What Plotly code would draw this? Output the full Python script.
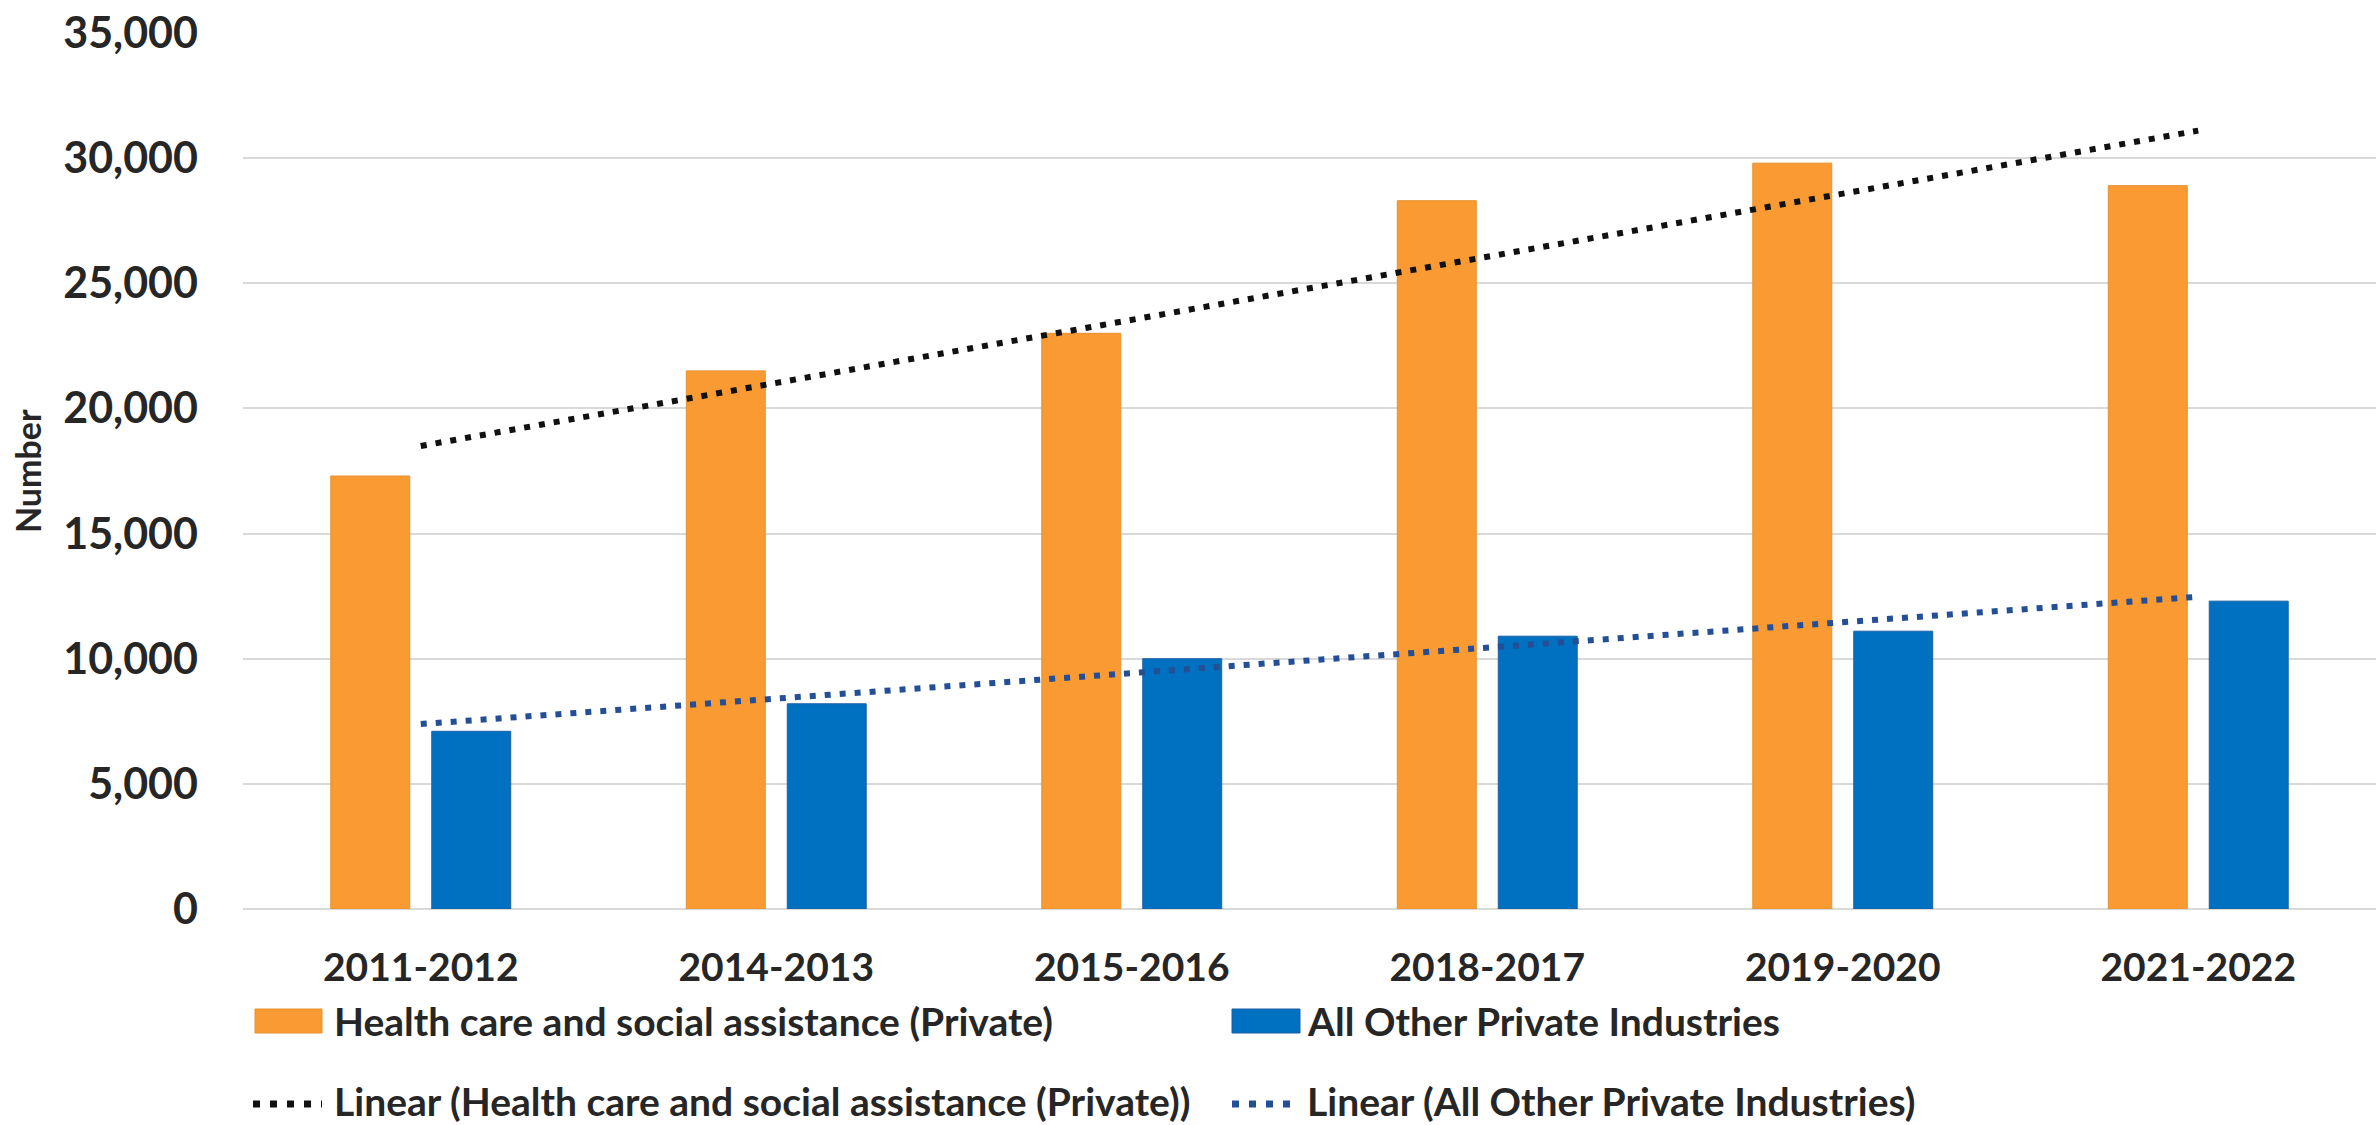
import numpy as np
import plotly.graph_objects as go

# ---------------- data ----------------
categories = ["2011-2012", "2014-2013", "2015-2016", "2018-2017", "2019-2020", "2021-2022"]
health_care = [17300, 21500, 23000, 28300, 29800, 28900]
all_other = [7100, 8200, 10000, 10900, 11100, 12300]
y_tick_values = [0, 5000, 10000, 15000, 20000, 25000, 30000, 35000]
y_tick_labels = ["0", "5,000", "10,000", "15,000", "20,000", "25,000", "30,000", "35,000"]

name_health = "Health care and social assistance (Private)"
name_other = "All Other Private Industries"
name_lin_health = "Linear (Health care and social assistance (Private))"
name_lin_other = "Linear (All Other Private Industries)"

# ---------------- styles ----------------
W, H = 2376, 1125
L, R, T, B = 243, 0, 33, 216
PW, PH = W - L - R, H - T - B
ORANGE = "#F99A33"
BLUE = "#0070C0"
TREND_BLACK = "#111111"
TREND_BLUE = "#244E96"
TEXT = "#262626"
GRID = "#D9D9D9"
FONT = "Lato"


def linear_trend(values):
    x = np.arange(len(values))
    slope, intercept = np.polyfit(x, values, 1)
    return [intercept + slope * x[0], intercept + slope * x[-1]]


fig = go.Figure()
fig.add_trace(go.Bar(x=categories, y=health_care, name=name_health,
                     marker=dict(color=ORANGE, line=dict(color="#E8902F", width=1)),
                     showlegend=False))
fig.add_trace(go.Bar(x=categories, y=all_other, name=name_other,
                     marker=dict(color=BLUE, line=dict(color="#1F5FA6", width=1)),
                     showlegend=False))
fig.add_trace(go.Scatter(x=[categories[0], categories[-1]], y=linear_trend(health_care),
                         mode="lines", name=name_lin_health,
                         line=dict(color=TREND_BLACK, width=6, dash="6px,9px"),
                         showlegend=False))
fig.add_trace(go.Scatter(x=[categories[0], categories[-1]], y=linear_trend(all_other),
                         mode="lines", name=name_lin_other,
                         line=dict(color=TREND_BLUE, width=6, dash="6px,9px"),
                         showlegend=False))


def px_x(px):
    return (px - L) / PW


def px_y(py):
    return (H - B - py) / PH


shapes = []
annotations = []

# manual legend (swatch px boxes and text positions)
legend_items = [
    ("rect", ORANGE, "#E8902F", 255, 322, 1009, 1033, 332, 1021, name_health),
    ("rect", BLUE, "#1F5FA6", 1232, 1300, 1009, 1033, 1305, 1021, name_other),
    ("line", TREND_BLACK, None, 253, 322, 1104, 1104, 332, 1101, name_lin_health),
    ("line", TREND_BLUE, None, 1232, 1300, 1104, 1104, 1305, 1101, name_lin_other),
]
for kind, col, lcol, x0, x1, y0, y1, tx, ty, label in legend_items:
    if kind == "rect":
        shapes.append(dict(type="rect", xref="paper", yref="paper",
                           x0=px_x(x0), x1=px_x(x1), y0=px_y(y1), y1=px_y(y0),
                           fillcolor=col, line=dict(color=lcol, width=1)))
    else:
        shapes.append(dict(type="line", xref="paper", yref="paper",
                           x0=px_x(x0), x1=px_x(x1), y0=px_y(y0), y1=px_y(y1),
                           line=dict(color=col, width=7, dash="7px,10px")))
    annotations.append(dict(xref="paper", yref="paper", x=px_x(tx), y=px_y(ty),
                            xanchor="left", yanchor="middle", showarrow=False,
                            text=label, font=dict(family=FONT, size=39, color=TEXT,
                                                  weight="bold")))

# y axis title
annotations.append(dict(xref="paper", yref="paper", x=px_x(27), y=0.5,
                        xanchor="center", yanchor="middle", showarrow=False,
                        text="Number", textangle=-90,
                        font=dict(family=FONT, size=34, color=TEXT, weight="bold")))

fig.update_layout(
    width=W, height=H,
    margin=dict(l=L, r=R, t=T, b=B, pad=0),
    paper_bgcolor="white", plot_bgcolor="white",
    barmode="group", bargap=0.432, bargroupgap=0.218,
    shapes=shapes, annotations=annotations,
    showlegend=False,
    xaxis=dict(type="category", showgrid=False, showline=False, zeroline=False,
               ticks="", ticklabelstandoff=32,
               tickfont=dict(family=FONT, size=39, color=TEXT, weight="bold")),
    yaxis=dict(range=[0, 35000], tickmode="array", tickvals=y_tick_values,
               ticktext=y_tick_labels, showgrid=True, gridcolor=GRID, gridwidth=2,
               zeroline=True, zerolinecolor=GRID, zerolinewidth=2,
               showline=False, ticks="", ticklabelstandoff=44,
               tickfont=dict(family=FONT, size=43, color=TEXT, weight="bold")),
)

fig.write_html("out.html", config={"displayModeBar": False},
               post_script="document.body.style.margin='0';document.body.style.overflow='hidden';")
